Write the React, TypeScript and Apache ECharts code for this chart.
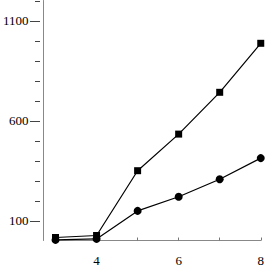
import React, { useEffect, useRef } from "react";
import * as echarts from "echarts";

const xValues = [3, 4, 5, 6, 7, 8];
const squareSeries = [15, 25, 349, 532, 741, 986];
const circleSeries = [3, 8, 148, 219, 306, 412];
const yMajorTicks = [100, 600, 1100];
const yMinorTicks = [200, 300, 400, 500, 700, 800, 900, 1000, 1200];
const xLabelTicks = [4, 6, 8];

export default function App() {
  const ref = useRef<HTMLDivElement>(null);
  useEffect(() => {
    if (!ref.current) return;
    const chart = echarts.init(ref.current, null, { renderer: "svg" });
    const font = "Liberation Serif";
    chart.setOption({
      animation: false,
      grid: { left: 52, right: 5, top: 0.5, height: 240 },
      xAxis: {
        type: "value",
        min: 3,
        max: 8,
        interval: 1,
        offset: 10.5,
        axisLine: { lineStyle: { color: "#888", width: 1 } },
        axisTick: { show: true, inside: true, length: 3, lineStyle: { color: "#777" } },
        axisLabel: {
          customValues: xLabelTicks,
          formatter: (v: number) => String(v),
          color: "#000",
          fontFamily: font,
          fontSize: 13,
          margin: 3,
        },
        splitLine: { show: false },
      },
      yAxis: {
        type: "value",
        min: 0,
        max: 1200,
        offset: 12,
        position: "left",
        axisLine: { show: true, lineStyle: { color: "#888", width: 1 } },
        axisTick: { show: false },
        axisLabel: {
          customValues: yMajorTicks,
          formatter: (v: number) => String(v),
          color: "#000",
          fontFamily: font,
          fontSize: 13,
          margin: 15,
        },
        splitLine: { show: false },
      },
      series: [
        {
          type: "line",
          data: xValues.map((x, i) => [x, squareSeries[i]]),
          symbol: "rect",
          symbolSize: 7,
          lineStyle: { color: "#000", width: 1.2 },
          itemStyle: { color: "#000" },
        },
        {
          type: "line",
          data: xValues.map((x, i) => [x, circleSeries[i]]),
          symbol: "circle",
          symbolSize: 8,
          lineStyle: { color: "#000", width: 1.2 },
          itemStyle: { color: "#000" },
        },
      ],
    });
    const axisX = 40;
    const tickLines: any[] = [];
    const addTick = (v: number, len: number) => {
      const p = chart.convertToPixel({ yAxisIndex: 0 }, v) as number;
      const y = Math.round(p) + 0.5;
      tickLines.push({
        type: "line",
        shape: { x1: axisX - len, y1: y, x2: axisX, y2: y },
        style: { stroke: "#444", lineWidth: 1 },
        silent: true,
      });
    };
    yMajorTicks.forEach((v) => addTick(v, 10));
    yMinorTicks.forEach((v) => addTick(v, 5));
    chart.setOption({ graphic: tickLines });
    return () => chart.dispose();
  }, []);
  return (
    <div
      ref={ref}
      style={{ position: "fixed", left: 0, top: 0, width: 267, height: 267, background: "#fff" }}
    />
  );
}
